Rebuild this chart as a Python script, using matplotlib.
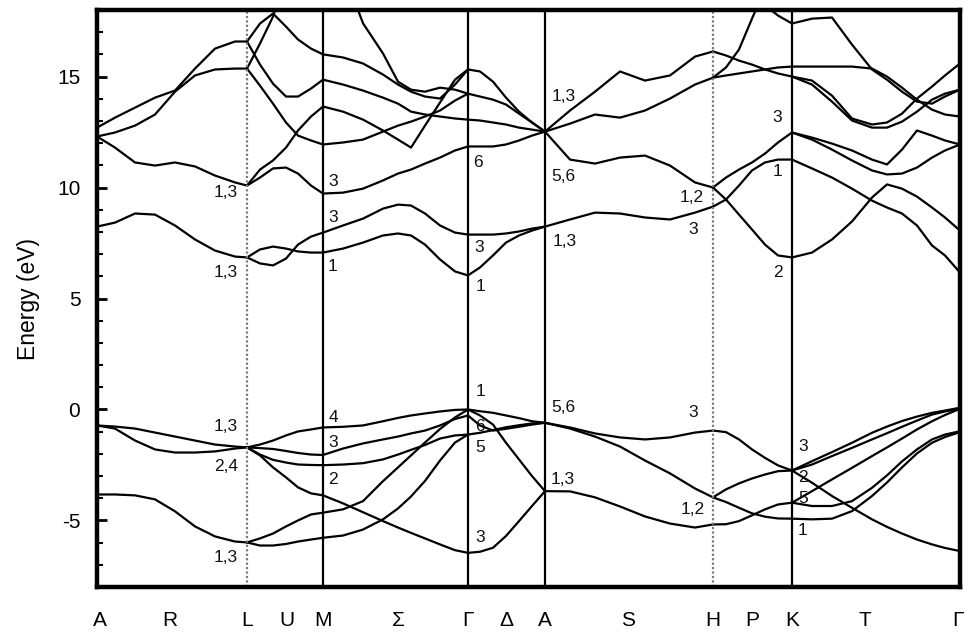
import numpy as np
import matplotlib
matplotlib.use("Agg")
import matplotlib.pyplot as plt
from matplotlib.ticker import MultipleLocator

nan = np.nan

# path labels and where they sit along k (arbitrary path units)
path_labels = ["A", "R", "L", "U", "M", "Σ", "Γ", "Δ", "A", "S", "H", "P", "K", "T", "Γ"]
path_ticks = [0.03, 0.73, 1.50, 1.90, 2.26, 3.01, 3.71, 4.09, 4.48, 5.31, 6.16, 6.55, 6.95, 7.68, 8.61]

# high-symmetry points marked by vertical lines
solid_points = [2.26, 3.71, 4.48, 6.95]   # M, Gamma, A, K
dotted_points = [1.50, 6.16]              # L, H

# ---- band energies (eV), one k grid per segment ----
k_AL = [0.0, 0.18, 0.38, 0.58, 0.78, 0.98, 1.18, 1.38, 1.50]
E_AL = [
    [-0.72, -0.77, -0.86, -1.04, -1.22, -1.40, -1.58, -1.67, -1.71],
    [-0.72, -0.86, -1.40, -1.80, -1.94, -1.94, -1.89, -1.76, -1.71],
    [-3.83, -3.83, -3.87, -4.05, -4.59, -5.27, -5.72, -5.95, -5.99],
    [8.24, 8.42, 8.83, 8.78, 8.29, 7.66, 7.16, 6.89, 6.85],
    [12.3, 11.8, 11.13, 10.99, 11.13, 10.95, 10.54, 10.23, 10.09],
    [12.3, 12.48, 12.79, 13.29, 14.32, 15.05, 15.32, 15.36, 15.36],
    [12.7, 13.15, 13.6, 14.05, 14.37, 15.36, 16.26, 16.58, 16.58],
]

k_LM = [1.50, 1.63, 1.76, 1.89, 2.01, 2.14, 2.26]
E_LM = [
    [-1.71, -1.58, -1.40, -1.17, -0.99, -0.90, -0.81],
    [-1.71, -1.74, -1.78, -1.87, -1.96, -2.03, -2.05],
    [-1.71, -2.03, -2.27, -2.39, -2.48, -2.50, -2.51],
    [-1.71, -2.07, -2.61, -3.06, -3.51, -3.78, -3.87],
    [-5.99, -5.81, -5.59, -5.27, -5.00, -4.73, -4.65],
    [-5.99, -6.13, -6.13, -6.06, -5.95, -5.86, -5.78],
    [16.58, 17.39, 17.84, 17.25, 16.67, 16.26, 16.0],
    [15.36, 16.49, 17.7, 19.6, nan, nan, nan],
    [16.58, 15.54, 14.68, 14.1, 14.1, 14.46, 14.86],
    [15.36, 14.59, 13.78, 12.93, 12.34, 12.12, 11.94],
    [10.09, 10.81, 11.22, 11.80, 12.57, 13.2, 13.65],
    [10.09, 10.45, 10.86, 10.9, 10.63, 10.09, 9.73],
    [6.85, 6.58, 6.49, 6.80, 7.43, 7.79, 7.97],
    [6.85, 7.21, 7.34, 7.25, 7.12, 7.07, 7.07],
]

k_MG = [2.26, 2.46, 2.66, 2.86, 3.01, 3.14, 3.28, 3.43, 3.58, 3.71]
E_MG = [
    [-0.81, -0.78, -0.72, -0.53, -0.38, -0.27, -0.18, -0.09, -0.02, 0.0],
    [-2.05, -1.76, -1.53, -1.35, -1.22, -1.08, -0.95, -0.72, -0.43, -0.27],
    [-2.51, -2.48, -2.42, -2.25, -2.03, -1.82, -1.60, -1.31, -1.17, -1.13],
    [-3.87, -4.23, -4.63, -5.03, -5.32, -5.56, -5.81, -6.08, -6.34, -6.46],
    [-4.65, -4.50, -4.13, -3.23, -2.61, -2.07, -1.49, -0.88, -0.36, 0.0],
    [-5.78, -5.68, -5.41, -4.95, -4.46, -3.92, -3.22, -2.30, -1.49, -1.13],
    [7.97, 8.29, 8.60, 9.05, 9.23, 9.19, 8.83, 8.29, 7.97, 7.88],
    [7.07, 7.25, 7.52, 7.84, 7.93, 7.84, 7.43, 6.76, 6.22, 6.04],
    [9.73, 9.77, 9.95, 10.32, 10.63, 10.81, 11.08, 11.35, 11.67, 11.85],
    [11.94, 12.03, 12.16, 12.52, 12.79, 12.97, 13.2, 13.47, 13.92, 14.23],
    [13.65, 13.42, 13.06, 12.57, 12.16, 11.8, 12.79, 13.83, 14.86, 15.32],
    [14.86, 14.64, 14.37, 14.05, 13.78, 13.42, 13.29, 13.2, 13.11, 13.06],
    [16.0, 15.86, 15.59, 15.09, 14.64, 14.32, 14.1, 14.01, 14.64, 15.32],
    [nan, 19.8, 17.4, 16.04, 14.77, 14.41, 14.32, 14.5, 14.41, 14.23],
]

k_GA = [3.71, 3.83, 3.96, 4.09, 4.22, 4.35, 4.48]
E_GA = [
    [0.0, -0.08, -0.15, -0.27, -0.39, -0.53, -0.6],
    [0.0, -0.27, -0.68, -1.5, -2.25, -3.0, -3.68],
    [-0.27, -0.72, -0.95, -0.87, -0.78, -0.68, -0.6],
    [-1.13, -1.05, -0.93, -0.8, -0.71, -0.63, -0.6],
    [-6.46, -6.41, -6.23, -5.7, -5.03, -4.35, -3.68],
    [6.04, 6.40, 6.94, 7.52, 7.84, 8.06, 8.24],
    [7.88, 7.88, 7.88, 7.93, 8.02, 8.15, 8.24],
    [11.85, 11.85, 11.85, 11.94, 12.12, 12.34, 12.52],
    [13.06, 13.02, 12.93, 12.84, 12.7, 12.61, 12.52],
    [14.23, 14.1, 13.96, 13.74, 13.33, 12.93, 12.52],
    [15.32, 15.23, 14.77, 14.05, 13.42, 12.93, 12.52],
]

k_AH = [4.48, 4.73, 4.98, 5.23, 5.48, 5.73, 5.98, 6.16]
E_AH = [
    [-0.6, -0.81, -1.08, -1.26, -1.35, -1.26, -1.04, -0.95],
    [-0.6, -0.86, -1.22, -1.67, -2.30, -2.88, -3.56, -3.96],
    [-3.68, -3.69, -3.96, -4.37, -4.82, -5.14, -5.32, -5.18],
    [12.52, 13.47, 14.32, 15.23, 14.82, 15.05, 15.9, 16.13],
    [12.52, 12.88, 13.29, 13.15, 13.47, 14.01, 14.64, 14.95],
    [12.52, 11.26, 11.08, 11.35, 11.44, 10.99, 10.23, 10.0],
    [8.24, 8.56, 8.87, 8.83, 8.65, 8.56, 8.87, 9.14],
]

k_HK = [6.16, 6.29, 6.42, 6.55, 6.68, 6.81, 6.95]
E_HK = [
    [-0.95, -1.02, -1.35, -1.80, -2.18, -2.52, -2.75],
    [-3.96, -3.60, -3.33, -3.11, -2.93, -2.78, -2.75],
    [-3.96, -4.17, -4.43, -4.68, -4.83, -4.91, -4.92],
    [-5.18, -5.17, -5.03, -4.77, -4.50, -4.28, -4.20],
    [16.13, 15.95, 15.72, 15.54, 15.32, 15.14, 15.0],
    [14.95, 15.05, 15.14, 15.23, 15.32, 15.41, 15.45],
    [14.95, 15.41, 16.22, 17.61, 18.95, nan, nan],
    [nan, nan, nan, nan, 18.2, 17.75, 17.39],
    [10.0, 10.45, 10.81, 11.13, 11.53, 12.03, 12.48],
    [9.14, 9.46, 10.09, 10.77, 11.13, 11.26, 11.26],
    [10.0, 9.46, 8.78, 8.11, 7.43, 6.94, 6.85],
]

k_KG = [6.95, 7.15, 7.35, 7.55, 7.75, 7.90, 8.05, 8.20, 8.35, 8.48, 8.63]
E_KG = [
    [-2.75, -2.33, -1.92, -1.50, -1.05, -0.77, -0.52, -0.32, -0.15, -0.05, 0.08],
    [-2.75, -2.48, -2.10, -1.73, -1.35, -1.07, -0.78, -0.50, -0.23, -0.09, 0.03],
    [-4.20, -3.68, -3.15, -2.63, -2.10, -1.71, -1.31, -0.90, -0.53, -0.25, 0.03],
    [-4.20, -4.35, -4.35, -4.13, -3.53, -2.97, -2.34, -1.80, -1.35, -1.13, -0.98],
    [-4.92, -4.95, -4.92, -4.58, -3.90, -3.29, -2.61, -1.98, -1.50, -1.24, -1.02],
    [-2.75, -3.30, -3.90, -4.43, -4.95, -5.29, -5.59, -5.86, -6.08, -6.24, -6.38],
    [15.45, 15.45, 15.45, 15.45, 15.36, 15.0, 14.5, 13.96, 13.51, 13.29, 13.2],
    [17.39, 17.61, 17.66, 16.44, 15.32, 14.86, 14.32, 13.87, 13.78, 14.1, 14.41],
    [15.0, 14.82, 14.14, 13.11, 12.84, 12.93, 13.33, 14.01, 14.55, 15.05, 15.59],
    [15.0, 14.64, 13.87, 13.02, 12.7, 12.7, 12.97, 13.42, 13.96, 14.23, 14.41],
    [12.48, 12.25, 11.98, 11.67, 11.26, 11.04, 11.71, 12.57, 12.34, 12.12, 11.94],
    [12.48, 12.16, 11.71, 11.22, 10.77, 10.59, 10.63, 10.9, 11.35, 11.67, 11.94],
    [11.26, 10.86, 10.45, 9.95, 9.41, 9.1, 8.83, 8.29, 7.39, 6.94, 6.17],
    [6.85, 7.07, 7.66, 8.47, 9.55, 10.14, 9.95, 9.59, 9.1, 8.65, 8.06],
]

# symmetry labels of the levels at the special points
level_text = ["1,3", "1,3", "1,3", "2,4", "1,3",
              "3", "3", "1", "4", "3", "2",
              "6", "3", "1", "1", "6", "5", "3",
              "1,3", "5,6", "1,3", "5,6", "1,3",
              "1,2", "3", "3", "1,2",
              "3", "1", "2", "3", "2", "5", "1"]
level_k = [1.29, 1.29, 1.29, 1.29, 1.29,
           2.36, 2.36, 2.35, 2.36, 2.36, 2.36,
           3.81, 3.82, 3.83, 3.83, 3.83, 3.83, 3.83,
           4.67, 4.66, 4.68, 4.66, 4.66,
           5.95, 5.96, 5.96, 5.96,
           6.80, 6.81, 6.81, 7.06, 7.06, 7.06, 7.06]
level_E = [9.77, 6.17, -0.77, -2.56, -6.67,
           10.27, 8.65, 6.44, -0.36, -1.49, -3.15,
           11.13, 7.3, 5.54, 0.81, -0.77, -1.71, -5.77,
           14.1, 10.5, 7.57, 0.09, -3.15,
           9.55, 8.11, -0.14, -4.5,
           13.15, 10.72, 6.17, -1.67, -3.05, -4.0, -5.45]

segments = [(k_AL, E_AL), (k_LM, E_LM), (k_MG, E_MG), (k_GA, E_GA),
            (k_AH, E_AH), (k_HK, E_HK), (k_KG, E_KG)]

plt.rcParams["font.family"] = ["Liberation Sans", "DejaVu Sans"]
plt.rcParams["axes.unicode_minus"] = False

fig = plt.figure(figsize=(9.76, 6.36), dpi=100)
ax = fig.add_axes([0.0994, 0.077, 0.8842, 0.9073])

for k, bands in segments:
    for e in bands:
        ax.plot(k, e, color="black", lw=1.6, solid_joinstyle="round",
                solid_capstyle="round")

for x in solid_points:
    ax.axvline(x, color="black", lw=1.6)
for x in dotted_points:
    ax.axvline(x, color="#7a7a7a", lw=1.6, ls=(0, (1, 1)))

for t, k, e in zip(level_text, level_k, level_E):
    ax.text(k, e, t, fontsize=12.5, ha="center", va="center", color="#111111")

ax.set_xlim(0, 8.63)
ax.set_ylim(-8, 18)

ax.set_xticks(path_ticks)
ax.set_xticklabels(path_labels, fontsize=15)
ax.tick_params(axis="x", length=0, pad=17)

ax.set_yticks([-5, 0, 5, 10, 15])
ax.yaxis.set_minor_locator(MultipleLocator(1))
ax.tick_params(axis="y", which="major", direction="in", length=7, width=2,
               labelsize=15, pad=12)
ax.tick_params(axis="y", which="minor", direction="in", length=4, width=1.5)
ax.set_ylabel("Energy (eV)", fontsize=16.5, labelpad=12)

for side in ax.spines.values():
    side.set_linewidth(3.2)
    side.set_color("black")

fig.savefig("out.png", dpi=100)
